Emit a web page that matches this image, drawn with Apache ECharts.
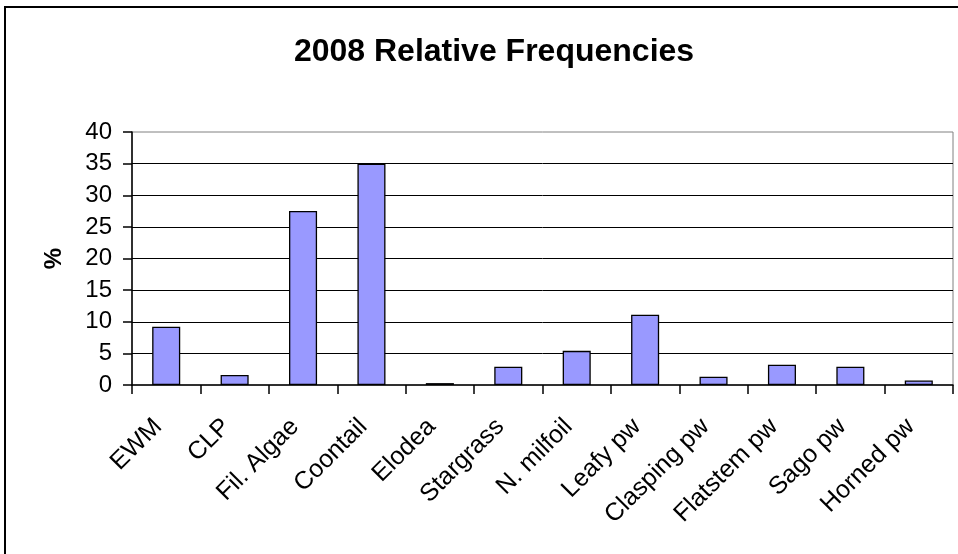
<!DOCTYPE html>
<html>
<head>
<meta charset="utf-8">
<script src="https://cdn.jsdelivr.net/npm/echarts@6/dist/echarts.min.js"></script>
<style>
  html, body { margin: 0; padding: 0; background: #fff; overflow: hidden; }
  #chart { width: 958px; height: 554px; }
</style>
</head>
<body>
<div id="chart"></div>
<script>
// Relative frequency (%) of each plant taxon, 2008
const categories = ['EWM', 'CLP', 'Fil. Algae', 'Coontail', 'Elodea', 'Stargrass',
  'N. milfoil', 'Leafy pw', 'Clasping pw', 'Flatstem pw', 'Sago pw', 'Horned pw'];
const frequencies = [9.2, 1.6, 27.5, 35.0, 0.3, 2.9, 5.4, 11.1, 1.3, 3.2, 2.9, 0.7];
const yTicks = { min: 0, max: 40, interval: 5 };
const titleText = '2008 Relative Frequencies';
const yName = '%';

const font = '"Liberation Sans", Arial, sans-serif';
const chart = echarts.init(document.getElementById('chart'));

chart.setOption({
  animation: false,
  backgroundColor: '#fff',
  title: {
    text: titleText,
    left: 489,
    textAlign: 'center',
    top: 31,
    textStyle: { fontFamily: font, fontSize: 32, fontWeight: 'bold', color: '#000' }
  },
  graphic: [{
    type: 'rect',
    shape: { x: 5, y: 7, width: 1000, height: 1000 },
    style: { fill: 'none', stroke: '#000', lineWidth: 2 },
    silent: true
  }],
  grid: {
    left: 132, right: 5, top: 132, bottom: 169,
    show: true, borderColor: '#808080', borderWidth: 1, backgroundColor: 'transparent'
  },
  xAxis: {
    type: 'category',
    data: categories,
    axisLine: { lineStyle: { color: '#000', width: 1.5 } },
    axisTick: { show: true, length: 9, inside: false, lineStyle: { color: '#000', width: 1.5 } },
    axisLabel: {
      // labels sit slightly left of each slot, with their ends just under the tick
      rotate: 45, margin: 46, interval: 0,
      verticalAlign: 'bottom', lineHeight: 23,
      fontFamily: font, fontSize: 25, color: '#000'
    },
    splitLine: { show: false }
  },
  yAxis: {
    type: 'value',
    min: yTicks.min, max: yTicks.max, interval: yTicks.interval,
    name: yName,
    nameLocation: 'middle',
    nameRotate: 90,
    nameGap: 66,
    nameTextStyle: { fontFamily: font, fontSize: 24, fontWeight: 'bold', color: '#000' },
    axisLine: { show: true, lineStyle: { color: '#000', width: 1.5 } },
    axisTick: { show: true, length: 9, lineStyle: { color: '#000', width: 1.5 } },
    axisLabel: { margin: 20, fontFamily: font, fontSize: 24, color: '#000' },
    splitLine: { show: true, showMinLine: false, showMaxLine: false, lineStyle: { color: '#000', width: 1 } }
  },
  series: [{
    type: 'bar',
    data: frequencies,
    barWidth: '41%',
    itemStyle: { color: '#9999FF', borderColor: '#000', borderWidth: 1.3 }
  }]
});
</script>
</body>
</html>
